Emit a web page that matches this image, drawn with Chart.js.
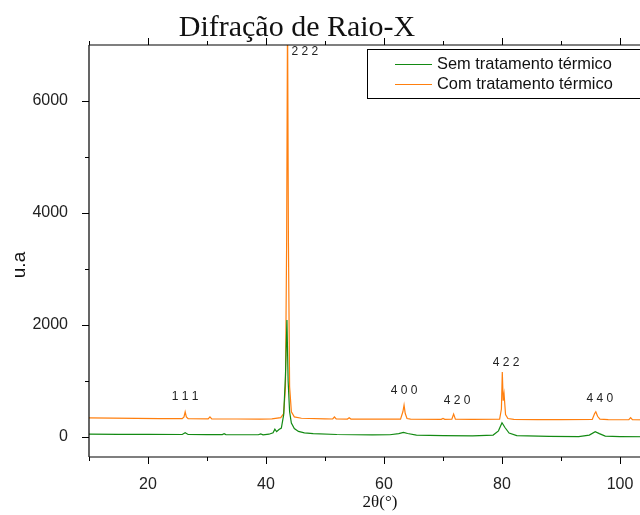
<!DOCTYPE html>
<html>
<head>
<meta charset="utf-8">
<script src="https://cdn.jsdelivr.net/npm/chart.js@4.4.1/dist/chart.umd.min.js"></script>
<style>
html,body{margin:0;padding:0;background:#fff;overflow:hidden;width:640px;height:515px;}
#wrap{position:absolute;left:0;top:0;width:660px;height:515px;}
</style>
</head>
<body>
<div id="wrap"><canvas id="c" width="660" height="515"></canvas></div>
<script>
// ---- Data ----
const seriesLabels = ['Sem tratamento térmico', 'Com tratamento térmico'];

const semX = [10,15,20,25.8,26.3,26.8,30,32.6,32.9,33.2,36,38.7,39.1,39.5,40.5,41.2,41.5,41.8,42.2,42.6,43.0,43.3,43.55,43.75,44.0,44.3,44.8,45.5,46.5,48,52,58,61,62.5,63.3,64,65.5,70,75,78.5,79.4,80.0,80.5,81.2,82.5,88,93,94.8,95.8,96.5,97.5,100,105];
const semY = [50,48,46,45,75,45,44,43,58,43,40,40,55,40,50,75,140,95,135,160,400,1100,2090,1000,450,250,150,100,75,60,45,38,40,60,84,62,35,25,20,35,110,255,170,70,25,12,8,35,95,60,15,8,5];

const comX = [10,14,18,22,25.8,26.1,26.3,26.5,26.8,30.2,30.5,30.8,35,39,41,42.5,43.0,43.3,43.5,43.65,43.8,44.0,44.3,44.8,46,50,51.3,51.6,51.9,53.8,54.1,54.4,58,62.8,63.2,63.4,63.6,63.9,64.5,69.7,70,70.3,71.5,71.8,72.1,75,79.6,79.9,80.05,80.2,80.35,80.6,81,82,86,90,95.3,95.7,95.9,96.2,96.6,98,101.5,101.8,102.1,105];
const comY = [340,336,333,330,328,360,450,360,328,325,360,325,322,320,325,345,420,900,3500,7600,3500,900,450,360,335,325,322,357,322,320,342,320,318,320,450,570,420,330,318,316,332,316,318,410,320,315,320,500,1160,650,770,400,330,315,312,310,315,420,450,370,320,310,308,345,308,305];

const peakLabels = ['1 1 1','2 2 2','4 0 0','4 2 0','4 2 2','4 4 0'];
const peakLabelX = [26.3, 46.6, 63.4, 72.4, 80.7, 96.6];
const peakLabelY = [714, 6875, 821, 643, 1321, 679];

const xMajorTicks = [20,40,60,80,100];
const xMinorTicks = [10,30,50,70,90];
const yMajorTicks = [0,2000,4000,6000];
const yMinorTicks = [1000,3000,5000];

const chartTitle = 'Difração de Raio-X';
const xTitle = '2θ(°)';
const yTitle = 'u.a';

const colors = ['#138a13', '#ff7f0e'];

function pts(xs, ys){ return xs.map((x,i)=>({x:x, y:ys[i]})); }

const decor = {
  id:'decor',
  afterDraw(chart){
    const ctx = chart.ctx, a = chart.chartArea;
    const xs = chart.scales.x, ys = chart.scales.y;
    ctx.save();
    ctx.strokeStyle = '#000';
    ctx.lineWidth = 1.2;
    // frame
    ctx.beginPath();
    ctx.moveTo(a.left, a.top); ctx.lineTo(a.right, a.top);
    ctx.moveTo(a.left, a.top); ctx.lineTo(a.left, a.bottom);
    ctx.moveTo(a.left, a.bottom); ctx.lineTo(a.right, a.bottom);
    ctx.stroke();
    // ticks
    ctx.lineWidth = 1;
    ctx.beginPath();
    xMajorTicks.forEach(v=>{ const p=Math.round(xs.getPixelForValue(v))+0.5;
      ctx.moveTo(p,a.bottom); ctx.lineTo(p,a.bottom+7);
      ctx.moveTo(p,a.top); ctx.lineTo(p,a.top-7); });
    xMinorTicks.forEach(v=>{ const p=Math.round(xs.getPixelForValue(v))+0.5;
      ctx.moveTo(p,a.bottom); ctx.lineTo(p,a.bottom+4);
      ctx.moveTo(p,a.top); ctx.lineTo(p,a.top-4); });
    yMajorTicks.forEach(v=>{ const p=Math.round(ys.getPixelForValue(v))+0.5;
      ctx.moveTo(a.left,p); ctx.lineTo(a.left-7,p); });
    yMinorTicks.forEach(v=>{ const p=Math.round(ys.getPixelForValue(v))+0.5;
      ctx.moveTo(a.left,p); ctx.lineTo(a.left-4,p); });
    ctx.stroke();

    // peak labels
    ctx.fillStyle = '#222';
    ctx.font = '12px "Liberation Sans", Arial, sans-serif';
    ctx.textAlign = 'center'; ctx.textBaseline = 'middle';
    peakLabels.forEach((t,i)=>{
      ctx.fillText(t, xs.getPixelForValue(peakLabelX[i]), ys.getPixelForValue(peakLabelY[i]));
    });

    // title
    ctx.fillStyle = '#111';
    ctx.font = '30px "Liberation Serif", "Times New Roman", serif';
    ctx.textAlign = 'center'; ctx.textBaseline = 'alphabetic';
    ctx.fillText(chartTitle, 297, 36);

    // x title
    ctx.font = '17px "Liberation Serif", "Times New Roman", serif';
    ctx.textBaseline = 'middle';
    ctx.fillText(xTitle, 380, 503);

    // y title
    ctx.save();
    ctx.translate(20, 265);
    ctx.rotate(-Math.PI/2);
    ctx.font = '19px "Liberation Sans", Arial, sans-serif';
    ctx.fillText(yTitle, 0, 0);
    ctx.restore();

    // legend
    const lx = 367, ly = 49, lw = 300, lh = 49;
    ctx.fillStyle = '#fff';
    ctx.fillRect(lx, ly, lw, lh);
    ctx.strokeStyle = '#000'; ctx.lineWidth = 1;
    ctx.strokeRect(lx+0.5, ly+0.5, lw, lh);
    ctx.font = '16.4px "Liberation Sans", Arial, sans-serif';
    ctx.textAlign = 'left'; ctx.textBaseline = 'middle';
    chart.data.datasets.forEach((ds,i)=>{
      const y = ly + 15 + i*20;
      ctx.strokeStyle = ds.borderColor; ctx.lineWidth = 1.2;
      ctx.beginPath(); ctx.moveTo(395, y+0.5); ctx.lineTo(432, y+0.5); ctx.stroke();
      ctx.fillStyle = '#111';
      ctx.fillText(ds.label, 437, y);
    });
    ctx.restore();
  }
};

new Chart(document.getElementById('c'), {
  type:'line',
  data:{
    datasets:[
      {label:seriesLabels[0], data:pts(semX, semY), borderColor:colors[0], borderWidth:1.2, pointRadius:0, tension:0, fill:false},
      {label:seriesLabels[1], data:pts(comX, comY), borderColor:colors[1], borderWidth:1.2, pointRadius:0, tension:0, fill:false}
    ]
  },
  options:{
    responsive:false,
    animation:false,
    devicePixelRatio:1,
    layout:{padding:{left:0, top:45, right:10.5, bottom:0}},
    plugins:{legend:{display:false}, title:{display:false}, tooltip:{enabled:false}},
    scales:{
      x:{
        type:'linear', min:10, max:105,
        grid:{display:false}, border:{display:false},
        afterBuildTicks(s){ s.ticks = xMajorTicks.map(v=>({value:v})); },
        afterFit(s){ s.height = 58; },
        ticks:{padding:10, color:'#222', font:{family:'"Liberation Sans", Arial, sans-serif', size:16}, maxRotation:0, autoSkip:false, callback:v=>String(v)}
      },
      y:{
        type:'linear', min:-357, max:7000,
        grid:{display:false}, border:{display:false},
        afterBuildTicks(s){ s.ticks = yMajorTicks.map(v=>({value:v})); },
        afterFit(s){ s.width = 89; },
        ticks:{padding:13, color:'#222', font:{family:'"Liberation Sans", Arial, sans-serif', size:16}, autoSkip:false, callback:v=>String(v)}
      }
    }
  },
  plugins:[decor]
});
</script>
</body>
</html>
